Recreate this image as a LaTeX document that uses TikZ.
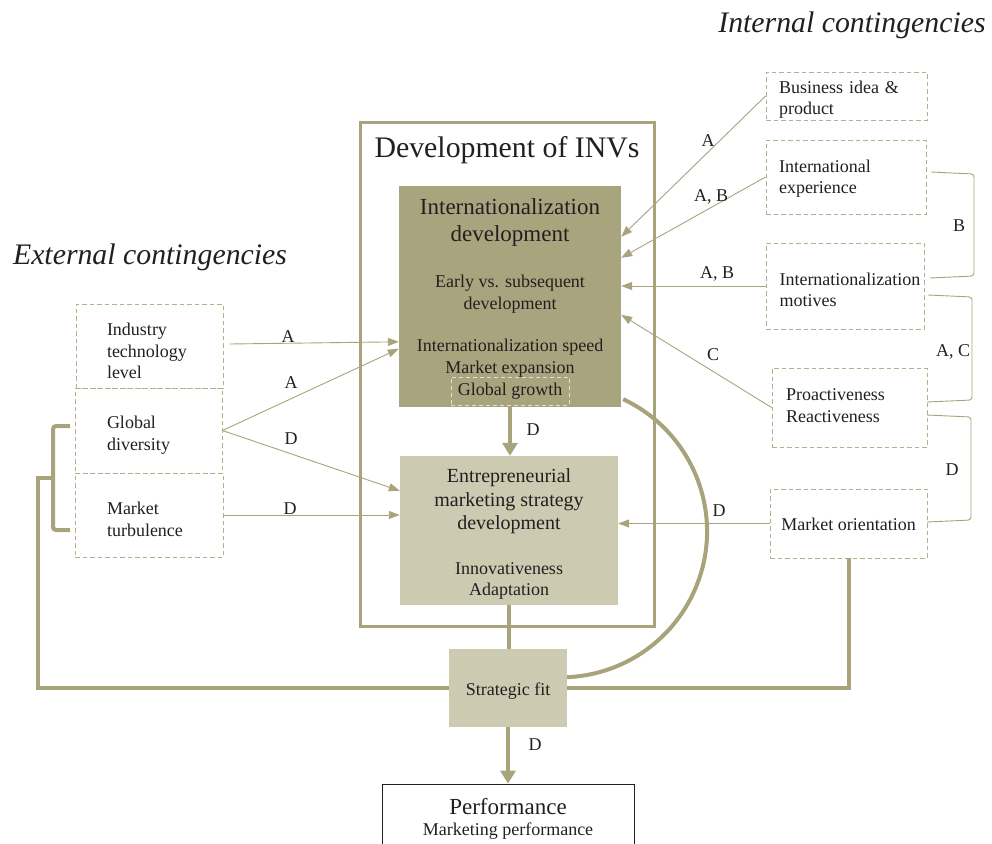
\documentclass[tikz,border=0pt]{standalone}
\usepackage{fontspec}
\setmainfont{Liberation Serif}
\usetikzlibrary{arrows.meta,calc}
\definecolor{olive}{HTML}{A8A37B}
\definecolor{darkfill}{HTML}{A8A47E}
\definecolor{lightfill}{HTML}{CCCAB1}
\definecolor{dashcol}{HTML}{B5B08C}
\definecolor{ggcol}{HTML}{E2E0D2}
\definecolor{ink}{HTML}{231F20}
\newcommand\fsz[2]{\fontsize{#1}{#2}\selectfont}
\newcommand\lowpad{\rule[-4pt]{0pt}{4pt}}

\begin{document}
\begin{tikzpicture}[x=1pt,y=-1pt,
  every node/.style={text=ink,font=\fsz{18}{21.5}},
  factor/.style={draw=dashcol,line width=0.9pt,dash pattern=on 4.5pt off 3pt,
    align=left,inner ysep=0pt},
  core/.style={inner sep=0pt},
  thin arrow/.style={draw=olive,line width=0.9pt,-{Triangle[length=11pt,width=8pt]}},
  thick link/.style={draw=olive,line width=4pt},
  thick arrow/.style={thick link,-{Triangle[length=13pt,width=15pt]}},
  tag/.style={inner sep=0pt},
  bracket/.style={draw=olive,line width=0.9pt,rounded corners=3pt}
]
\useasboundingbox (0,0) rectangle (992,843);
\clip (0,0) rectangle (992,843);

% headings
\node[tag,font=\fsz{29.8}{34}\itshape] (inthead) at (852,25) {Internal contingencies};
\node[tag,font=\fsz{29.8}{34}\itshape] (exthead) at (150,257) {External contingencies};

% frame of the INV development block
\node[draw=olive,line width=3pt,minimum width=294,minimum height=504,core] (inv) at (507,374) {};
\node[tag,font=\fsz{29.8}{34}] (invtitle) at (507,150) {Development of INVs};

% internationalization development
\node[fill=darkfill,minimum width=222,minimum height=221,core] (intl) at (510,296.5) {};
\node[tag,align=center,font=\fsz{23}{27}] (intltitle) at (510,222) {Internationalization\\development};
\node[tag,align=center] (intlearly) at (510,294) {Early vs. subsequent\\development};
\node[tag,align=center] (intlspeed) at (510,358) {Internationalization speed\\Market expansion};
\node[draw=ggcol,line width=0.8pt,dash pattern=on 4pt off 3pt,minimum width=118,minimum height=28,core] (gg) at (510,391) {Global growth};

% entrepreneurial marketing strategy development
\node[fill=lightfill,minimum width=218,minimum height=149,core] (ems) at (509,530.5) {};
\node[tag,align=center,font=\fsz{20}{23.5}] (emstitle) at (509,501.5) {Entrepreneurial\\marketing strategy\\development};
\node[tag,align=center] (emsitems) at (509,581) {Innovativeness\\Adaptation};

% strategic fit and performance
\node[fill=lightfill,minimum width=118,minimum height=78,core] (sf) at (508,688) {};
\node[tag] (sftext) at (508,691) {Strategic fit};
\node[draw=ink,line width=0.8pt,minimum width=252,minimum height=80,core] (perf) at (508,824) {};
\node[tag,font=\fsz{23}{27}] (perftitle) at (508,806.5) {Performance};
\node[tag] (perfsub) at (508,831.5) {Marketing performance};

% internal contingencies
\node[factor,text width=135,inner xsep=13,minimum height=48,
  execute at begin node={\rule{0pt}{20pt}}] (biz) at (846.5,96) {Business idea \&\\product};
\node[factor,text width=134,inner xsep=13,minimum height=74,
  execute at begin node={\rule{0pt}{16pt}}] (exp) at (846,177) {International\\experience};
\node[factor,text width=131,inner xsep=13.5,minimum height=86,
  execute at begin node={\rule{0pt}{20pt}}] (mot) at (845,286) {Internationalization\\motives};
\node[factor,text width=127,inner xsep=14,minimum height=79,
  execute at end node={\lowpad}] (pro) at (849.5,407.5) {Proactiveness\\Reactiveness};
\node[factor,inner xsep=0pt,minimum width=157,minimum height=69,
  execute at begin node={\rule{0pt}{14pt}}] (mo) at (848.5,523.5) {Market orientation};

% external contingencies
\node[factor,text width=85,inner xsep=31,minimum height=84,
  execute at begin node={\rule{0pt}{23pt}}] (ind) at (149.5,346) {Industry\\technology\\level};
\node[factor,text width=83,inner xsep=32,minimum height=85,
  execute at begin node={\rule{0pt}{22pt}}] (glob) at (148.5,430.5) {Global\\diversity};
\node[factor,text width=84,inner xsep=32,minimum height=84,
  execute at begin node={\rule{0pt}{21pt}}] (mt) at (149,515) {Market\\turbulence};

% thin influence arrows
\draw[thin arrow] (biz.west) -- ([yshift=-51pt]intl.north east);
\draw[thin arrow] (exp.west) -- ([yshift=-72pt]intl.north east);
\draw[thin arrow] (mot.west) -- (mot.west -| intl.east);
\draw[thin arrow] (pro.west) -- ([yshift=-129pt]intl.north east);
\draw[thin arrow] (mo.west) -- (mo.west -| ems.east);
\draw[thin arrow] ([xshift=6pt,yshift=2pt]ind.east) -- ([yshift=-156pt]intl.north west);
\draw[thin arrow] (glob.east) -- ([yshift=-163pt]intl.north west);
\draw[thin arrow] (glob.east) -- ([yshift=-35pt]ems.north west);
\draw[thin arrow] (mt.east) -- (mt.east -| ems.west);

% labels on the thin arrows
\node[tag] (la1) at (708,141) {A};
\node[tag] (la2) at (711,196.5) {A, B};
\node[tag] (la3) at (717,273.5) {A, B};
\node[tag] (la4) at (713,355) {C};
\node[tag] (la5) at (719,511) {D};
\node[tag] (la6) at (288,337) {A};
\node[tag] (la7) at (291,383) {A};
\node[tag] (la8) at (291,439) {D};
\node[tag] (la9) at (290,509) {D};

% main flow
\draw[thick arrow] (intl.south) -- (intl.south |- ems.north);
\node[tag] (ld1) at (533,430) {D};
\draw[thick link] (ems.south) -- (ems.south |- sf.north);
\draw[thick arrow] (sf.south) -- (sf.south |- perf.north);
\node[tag] (ld2) at (535,745) {D};

% feedback arc from internationalization to strategic fit
\draw[thick link] ([shift={(2,-8)}]intl.south east) arc[start angle=64.8,end angle=-87.6,radius=146pt];

% external contingencies into strategic fit
\coordinate (brk) at (53,478);
\draw[thick link,rounded corners=3pt] (70,426) -- (53,426) -- (53,530) -- (70,530);
\draw[thick link] (sf.west) -| (38,478) -- (brk);

% market orientation into strategic fit
\draw[thick link] (sf.east) -| (mo.south);

% brackets between internal contingencies
\draw[bracket] (931,172) -- (974,174) -- (974,276) -- (930,278);
\draw[bracket] (928,295) -- (972,297) -- (972,400) -- (927,402);
\draw[bracket] (927,415) -- (971,417) -- (971,520) -- (927,522);
\node[tag] (lb1) at (959,226) {B};
\node[tag] (lb2) at (953,352) {A, C};
\node[tag] (lb3) at (952,470) {D};
\end{tikzpicture}
\end{document}
